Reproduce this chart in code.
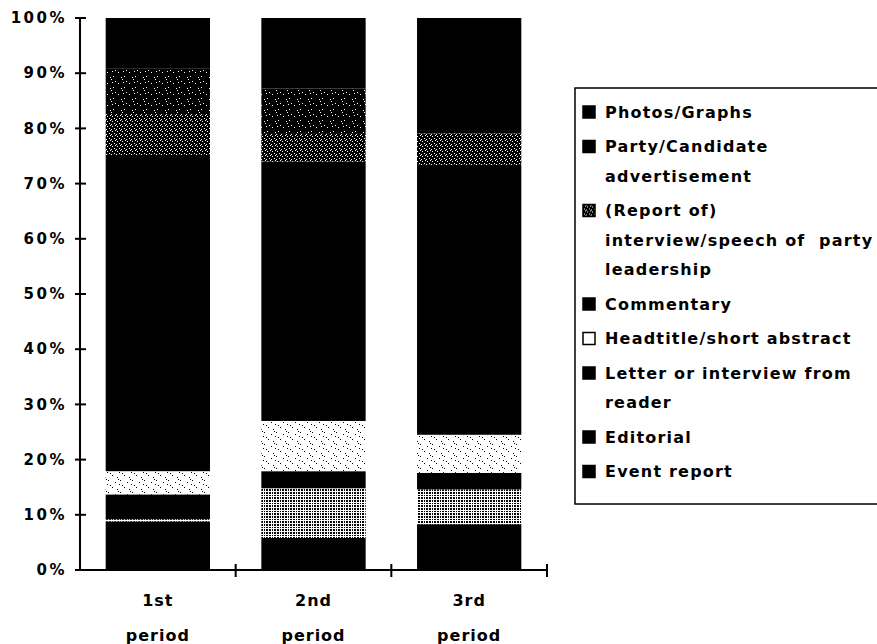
<!DOCTYPE html>
<html>
<head>
<meta charset="utf-8">
<script src="https://cdn.jsdelivr.net/npm/d3@7"></script>
<style>
  body { margin: 0; background: #fff; }
  text { font-family: "DejaVu Sans", sans-serif; font-weight: bold; }
</style>
</head>
<body>
<div id="chart-area"></div>
<script>
const periods = ["1st", "2nd", "3rd"];
const periodSub = "period";
const yTicks = [0, 10, 20, 30, 40, 50, 60, 70, 80, 90, 100];

// stack order, bottom to top
const seriesKeys = ["event", "editorial", "letter", "headtitle", "commentary", "interview", "party", "photos"];
const eventReport = [8.8, 5.8, 8.3];
const editorial = [0.4, 9.0, 6.3];
const letterReader = [4.5, 3.1, 3.0];
const headtitle = [4.2, 9.1, 6.9];
const commentary = [57.3, 47.0, 48.9];
const interview = [7.4, 5.0, 5.7];
const partyAd = [8.2, 8.2, 0];
const photos = [9.2, 12.8, 20.9];

// legend, top to bottom
const legendKeys = ["photos", "party", "interview", "commentary", "headtitle", "letter", "editorial", "event"];
const legendLabels = [
  ["Photos/Graphs"],
  ["Party/Candidate", "advertisement"],
  ["(Report of)", "interview/speech of  party", "leadership"],
  ["Commentary"],
  ["Headtitle/short abstract"],
  ["Letter or interview from", "reader"],
  ["Editorial"],
  ["Event report"],
];

const width = 877;
const height = 644;
const margin = { top: 18, left: 80, bottom: 74 };
const plotRight = 547;

const svg = d3
  .select("#chart-area")
  .append("svg")
  .attr("width", width)
  .attr("height", height);

const defs = svg.append("defs");

// speckle textures, built from a fixed tile
function makePattern(id, bg, fg, size, test) {
  const p = defs
    .append("pattern")
    .attr("id", id)
    .attr("patternUnits", "userSpaceOnUse")
    .attr("width", size)
    .attr("height", size);
  p.append("rect").attr("width", size).attr("height", size).attr("fill", bg);
  for (let i = 0; i < size; i++) {
    for (let j = 0; j < size; j++) {
      if (test(i, j)) {
        p.append("rect")
          .attr("x", i)
          .attr("y", j)
          .attr("width", 1)
          .attr("height", 1)
          .attr("fill", fg);
      }
    }
  }
}

makePattern("pat-party", "#000", "#fff", 11, (i, j) => (i * 7 + j * 5 + i * j * 3) % 23 === 0);
makePattern("pat-interview", "#000", "#fff", 10, (i, j) => (i * 3 + j * 7 + i * j) % 5 === 0);
makePattern("pat-headtitle", "#fff", "#000", 12, (i, j) => (i * 5 + j * 11 + i * j * 2) % 17 === 0);
makePattern("pat-editorial", "#000", "#fff", 8, (i, j) => (i * 3 + j * 5 + i * j) % 3 === 0);

const fills = {
  event: "#000",
  editorial: "url(#pat-editorial)",
  letter: "#000",
  headtitle: "url(#pat-headtitle)",
  commentary: "#000",
  interview: "url(#pat-interview)",
  party: "url(#pat-party)",
  photos: "#000",
};

const seriesValues = {
  event: eventReport,
  editorial: editorial,
  letter: letterReader,
  headtitle: headtitle,
  commentary: commentary,
  interview: interview,
  party: partyAd,
  photos: photos,
};

const table = periods.map((p, i) => {
  const row = { period: p };
  seriesKeys.forEach((k) => (row[k] = seriesValues[k][i]));
  return row;
});

const stacked = d3.stack().keys(seriesKeys)(table);

const x = d3
  .scaleBand()
  .domain(periods)
  .range([margin.left, plotRight])
  .paddingInner(0.33)
  .paddingOuter(0.165);

const y = d3
  .scaleLinear()
  .domain([0, 100])
  .range([height - margin.bottom, margin.top]);

// bars
svg
  .append("g")
  .selectAll("g")
  .data(stacked)
  .join("g")
  .attr("fill", (d) => fills[d.key])
  .selectAll("rect")
  .data((d) => d)
  .join("rect")
  .attr("x", (d) => x(d.data.period))
  .attr("y", (d) => y(d[1]))
  .attr("width", x.bandwidth())
  .attr("height", (d) => y(d[0]) - y(d[1]));

// y axis
const yAxis = svg.append("g");
yAxis
  .append("line")
  .attr("x1", margin.left)
  .attr("x2", margin.left)
  .attr("y1", y(100))
  .attr("y2", y(0))
  .attr("stroke", "#000")
  .attr("stroke-width", 2);
yAxis
  .selectAll("line.tick")
  .data(yTicks)
  .join("line")
  .attr("class", "tick")
  .attr("x1", margin.left - 5)
  .attr("x2", margin.left + 6)
  .attr("y1", (d) => y(d))
  .attr("y2", (d) => y(d))
  .attr("stroke", "#000")
  .attr("stroke-width", 2);
yAxis
  .selectAll("text")
  .data(yTicks)
  .join("text")
  .attr("x", 67)
  .attr("y", (d) => y(d))
  .attr("dy", "0.35em")
  .attr("text-anchor", "end")
  .style("font-size", "15px")
  .style("letter-spacing", "2.5px")
  .text((d) => `${d}%`);

// x axis
const xAxis = svg.append("g");
const xTicks = periods.map((p) => x(p) + x.bandwidth() + (x.step() - x.bandwidth()) / 2);
xAxis
  .append("line")
  .attr("x1", margin.left - 2)
  .attr("x2", plotRight)
  .attr("y1", y(0))
  .attr("y2", y(0))
  .attr("stroke", "#000")
  .attr("stroke-width", 2);
xAxis
  .selectAll("line.tick")
  .data(xTicks)
  .join("line")
  .attr("class", "tick")
  .attr("x1", (d) => d)
  .attr("x2", (d) => d)
  .attr("y1", y(0) - 6)
  .attr("y2", y(0) + 7)
  .attr("stroke", "#000")
  .attr("stroke-width", 2);

const xLabels = xAxis
  .selectAll("g.lab")
  .data(periods)
  .join("g")
  .attr("class", "lab")
  .attr("transform", (d) => `translate(${x(d) + x.bandwidth() / 2}, 0)`);
xLabels
  .append("text")
  .attr("y", 606)
  .attr("text-anchor", "middle")
  .style("font-size", "16px")
  .style("letter-spacing", "1px")
  .text((d) => d);
xLabels
  .append("text")
  .attr("y", 641)
  .attr("text-anchor", "middle")
  .style("font-size", "16px")
  .style("letter-spacing", "1px")
  .text(periodSub);

// legend
const legend = svg.append("g").attr("transform", "translate(575, 88)");
legend
  .append("rect")
  .attr("width", 330)
  .attr("height", 416)
  .attr("fill", "#fff")
  .attr("stroke", "#000")
  .attr("stroke-width", 1.5);

const lineGap = 29.5;
let rowY = 24;
legendKeys.forEach((key, i) => {
  const g = legend.append("g").attr("transform", `translate(0, ${rowY})`);
  const sw = key === "headtitle" ? "#fff" : key === "interview" ? "url(#pat-interview)" : "#000";
  g.append("rect")
    .attr("x", 8)
    .attr("y", -6)
    .attr("width", 12)
    .attr("height", 12)
    .attr("fill", sw)
    .attr("stroke", "#000")
    .attr("stroke-width", 1.5);
  legendLabels[i].forEach((line, j) => {
    g.append("text")
      .attr("x", 30)
      .attr("y", j * lineGap)
      .attr("dy", "0.35em")
      .style("font-size", "16px")
      .style("letter-spacing", "1.2px")
      .style("white-space", "pre")
      .text(line);
  });
  rowY += legendLabels[i].length * lineGap + 5;
});
</script>
</body>
</html>
